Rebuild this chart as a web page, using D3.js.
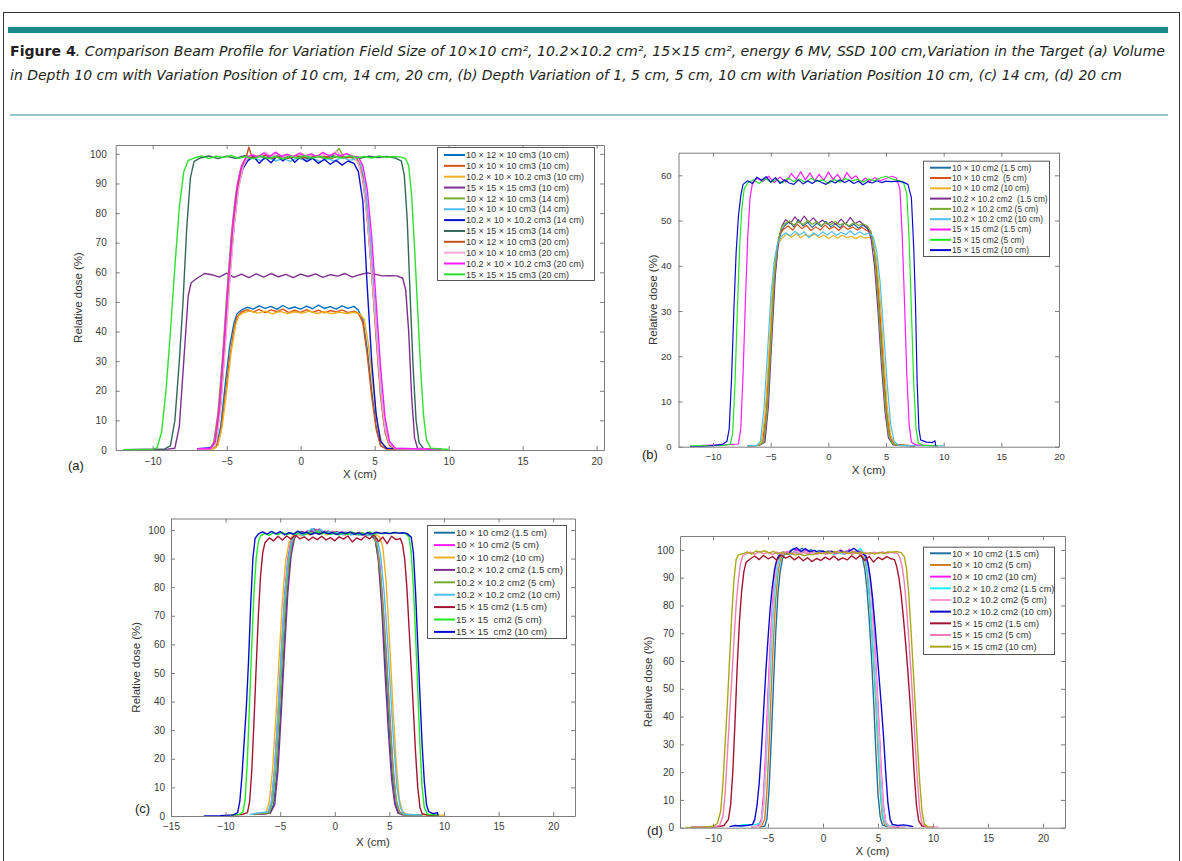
<!DOCTYPE html>
<html>
<head>
<meta charset="utf-8">
<script src="https://cdn.jsdelivr.net/npm/d3@7"></script>
<style>
  body { margin: 0; background: #fff; }
  svg { display: block; }
</style>
</head>
<body>
<svg id="chart" width="1182" height="861"></svg>
<script>
// ---- data ----
var xTicksA = [-10, -5, 0, 5, 10, 15, 20];
var yTicksA = [0, 10, 20, 30, 40, 50, 60, 70, 80, 90, 100];
var xTicksB = [-10, -5, 0, 5, 10, 15, 20];
var yTicksB = [0, 10, 20, 30, 40, 50, 60];
var xTicksC = [-15, -10, -5, 0, 5, 10, 15, 20];
var yTicksC = [0, 10, 20, 30, 40, 50, 60, 70, 80, 90, 100];
var xTicksD = [-10, -5, 0, 5, 10, 15, 20];
var yTicksD = [0, 10, 20, 30, 40, 50, 60, 70, 80, 90, 100];

var labelsA = [
  "10 × 12 × 10 cm3 (10 cm)", "10 × 10 × 10 cm3 (10 cm)", "10.2 × 10 × 10.2 cm3 (10 cm)", "15 × 15 × 15 cm3 (10 cm)",
  "10 × 12 × 10 cm3 (14 cm)", "10 × 10 × 10 cm3 (14 cm)", "10.2 × 10 × 10.2 cm3 (14 cm)", "15 × 15 × 15 cm3 (14 cm)",
  "10 × 12 × 10 cm3 (20 cm)", "10 × 10 × 10 cm3 (20 cm)", "10.2 × 10 × 10.2 cm3 (20 cm)", "15 × 15 × 15 cm3 (20 cm)"
];
var labelsB = [
  "10 × 10 cm2 (1.5 cm)", "10 × 10 cm2  (5 cm)", "10 × 10 cm2 (10 cm)", "10.2 × 10.2 cm2  (1.5 cm)",
  "10.2 × 10.2 cm2 (5 cm)", "10.2 × 10.2 cm2 (10 cm)", "15 × 15 cm2 (1.5 cm)", "15 × 15 cm2 (5 cm)", "15 × 15 cm2 (10 cm)"
];
var labelsC = [
  "10 × 10 cm2 (1.5 cm)", "10 × 10 cm2 (5 cm)", "10 × 10 cm2 (10 cm)", "10.2 × 10.2 cm2 (1.5 cm)",
  "10.2 × 10.2 cm2 (5 cm)", "10.2 × 10.2 cm2 (10 cm)", "15 × 15 cm2 (1.5 cm)", "15 × 15  cm2 (5 cm)", "15 × 15  cm2 (10 cm)"
];
var labelsD = [
  "10 × 10 cm2 (1.5 cm)", "10 × 10 cm2 (5 cm)", "10 × 10 cm2 (10 cm)", "10.2 × 10.2 cm2 (1.5 cm)",
  "10.2 × 10.2 cm2 (5 cm)", "10.2 × 10.2 cm2 (10 cm)", "15 × 15 cm2 (1.5 cm)", "15 × 15 cm2 (5 cm)", "15 × 15 cm2 (10 cm)"
];

// profiles: [x (cm), relative dose (%)]
var profilesA = [
  [[-7,0.3],[-6,0.4],[-5.7,1.2],[-5.4,8],[-5.1,22],[-4.8,35],[-4.5,43],[-4.3,46],[-4.0,47.3],[-3.6,48.2],[-3.2,47.6],[-2.8,48.7],[-2.4,47.8],[-2.0,48.5],[-1.6,47.5],[-1.2,48.8],[-0.8,47.7],[-0.4,48.3],[0,47.6],[0.4,48.6],[0.8,47.7],[1.2,48.9],[1.6,47.8],[2.0,48.4],[2.4,47.6],[2.8,48.7],[3.2,47.8],[3.6,48.5],[3.9,47.2],[4.2,44],[4.5,34],[4.8,20],[5.1,8],[5.4,1.5],[5.8,0.4],[7,0.2]],
  [[-7,0.2],[-6,0.3],[-5.7,1],[-5.4,6],[-5.1,18],[-4.8,31],[-4.5,41],[-4.3,45],[-4.0,46.6],[-3.6,47.4],[-3.2,46.6],[-2.8,47.5],[-2.4,46.4],[-2.0,47.3],[-1.6,46.7],[-1.2,47.6],[-0.8,46.4],[-0.4,47.2],[0,46.5],[0.4,47.4],[0.8,46.5],[1.2,47.2],[1.6,46.3],[2.0,47.1],[2.4,46.6],[2.8,47.3],[3.2,46.4],[3.6,46.9],[3.9,46.2],[4.2,43],[4.5,32],[4.8,18],[5.1,7],[5.4,1.5],[5.8,0.3],[7,0.2]],
  [[-7,0.2],[-5.9,0.3],[-5.6,1.5],[-5.3,8],[-5.0,20],[-4.7,33],[-4.4,42],[-4.2,45.3],[-3.9,46.3],[-3.4,47],[-2.9,46.2],[-2.4,46.9],[-1.9,46],[-1.4,46.8],[-0.9,46.1],[-0.4,46.7],[0.1,46.2],[0.6,46.9],[1.1,46.1],[1.6,46.7],[2.1,46],[2.6,46.6],[3.1,46.1],[3.6,46.5],[4.0,46],[4.3,44],[4.6,35],[4.9,21],[5.2,8],[5.5,2],[5.9,0.4],[7,0.2]],
  [[-12,0.1],[-9,0.3],[-8.5,0.6],[-8.2,8],[-7.9,30],[-7.6,52],[-7.4,56.5],[-7.0,58],[-6.5,59.6],[-6.0,59.2],[-5.5,58.4],[-5.0,59.7],[-4.5,58.3],[-4.0,59.4],[-3.5,58.2],[-3.0,59.5],[-2.5,58.4],[-2.0,59.6],[-1.5,58.5],[-1.0,59.3],[-0.5,58.2],[0,59.4],[0.5,58.6],[1.0,59.5],[1.5,58.3],[2.0,59.2],[2.5,58.7],[3.0,59.6],[3.5,58.4],[4.0,59.2],[4.5,59.8],[5.0,59.4],[5.5,58.8],[6.0,58.9],[6.5,58.8],[6.9,58],[7.1,54],[7.3,40],[7.5,18],[7.7,4],[7.9,0.6],[9,0.2]],
  [[-7,0.3],[-6.2,0.5],[-5.9,2],[-5.6,12],[-5.3,30],[-5.0,52],[-4.7,72],[-4.4,86],[-4.1,94],[-3.8,97.5],[-3.4,98.8],[-2.9,99.5],[-2.4,98.6],[-1.9,99.4],[-1.4,98.7],[-0.9,99.6],[-0.4,98.8],[0.1,99.3],[0.6,98.5],[1.1,99.5],[1.6,98.7],[2.1,99.2],[2.6,101.8],[2.9,99],[3.4,98.8],[3.8,97.8],[4.1,94],[4.4,84],[4.7,66],[5.0,46],[5.3,26],[5.6,10],[5.9,2.5],[6.3,0.5],[9.5,0.2]],
  [[-7,0.3],[-6.1,0.5],[-5.8,2],[-5.5,13],[-5.2,32],[-4.9,54],[-4.6,74],[-4.3,87],[-4.0,95],[-3.7,97.8],[-3.2,98.6],[-2.7,97.8],[-2.2,98.9],[-1.7,97.6],[-1.2,98.5],[-0.7,97.5],[-0.2,98.7],[0.3,97.8],[0.8,98.6],[1.3,97.4],[1.8,98.4],[2.3,97.6],[2.8,98.8],[3.3,97.9],[3.8,98.2],[4.1,96],[4.4,88],[4.7,72],[5.0,50],[5.3,28],[5.6,11],[5.9,3],[6.3,0.6],[9.5,0.2]],
  [[-7,0.4],[-6.0,0.8],[-5.7,3],[-5.4,16],[-5.1,36],[-4.8,58],[-4.5,76],[-4.2,89],[-3.9,95],[-3.6,97.5],[-3.2,99.2],[-2.8,96.8],[-2.4,98.8],[-2.0,97],[-1.6,99.3],[-1.2,97.6],[-0.8,99.5],[-0.4,97.2],[0,99],[0.4,97.4],[0.8,98.5],[1.2,96.8],[1.6,98.2],[2.0,96.5],[2.4,97.8],[2.8,96.2],[3.2,97.6],[3.6,96.8],[3.9,94],[4.2,84],[4.5,55],[4.8,30],[5.1,12],[5.4,3],[5.8,0.6],[7,0.3]],
  [[-12,0.1],[-9.2,0.3],[-8.8,1.5],[-8.5,10],[-8.2,30],[-7.95,50],[-7.7,75],[-7.45,92],[-7.2,97.5],[-6.8,98.6],[-6.2,99.3],[-5.6,98.4],[-5.0,99.2],[-4.4,98.5],[-3.8,99.4],[-3.2,98.7],[-2.6,99.1],[-2.0,98.4],[-1.4,99.2],[-0.8,98.6],[-0.2,99.3],[0.4,98.5],[1.0,99.1],[1.6,98.6],[2.2,99.3],[2.8,98.7],[3.4,99],[4.0,98.5],[4.6,99.2],[5.2,98.8],[5.8,99.1],[6.4,98.6],[6.8,97.6],[7.0,93],[7.2,78],[7.4,52],[7.6,28],[7.8,10],[8.0,2.5],[8.3,0.5],[9.5,0.2]],
  [[-7,0.3],[-6.1,0.4],[-5.8,2],[-5.5,12],[-5.2,31],[-4.9,53],[-4.6,73],[-4.3,87],[-4.0,95],[-3.7,98.5],[-3.5,102.3],[-3.3,99],[-2.9,98.8],[-2.4,99.6],[-1.9,98.7],[-1.4,99.4],[-0.9,98.5],[-0.4,99.3],[0.1,98.6],[0.6,99.5],[1.1,98.8],[1.6,99.2],[2.1,98.5],[2.6,99.4],[3.1,98.7],[3.6,99.1],[3.9,97.5],[4.2,92],[4.5,78],[4.8,60],[5.1,38],[5.4,18],[5.7,6],[6.0,1.5],[6.4,0.4],[9.5,0.2]],
  [[-7,0.2],[-6.0,0.4],[-5.7,2.5],[-5.4,14],[-5.1,34],[-4.8,56],[-4.5,75],[-4.2,88],[-3.9,95.5],[-3.6,98.6],[-3.2,99.8],[-2.8,98.9],[-2.4,100.6],[-2.0,99.2],[-1.6,100.2],[-1.2,98.9],[-0.8,99.7],[-0.4,99],[0,100.4],[0.4,99.1],[0.8,99.8],[1.2,98.8],[1.6,100.1],[2.0,99.3],[2.4,101],[2.8,99.4],[3.2,99.9],[3.6,98.9],[3.9,97],[4.2,91],[4.5,78],[4.8,60],[5.1,40],[5.4,20],[5.7,7],[6.0,2],[6.4,0.4],[9.5,0.2]],
  [[-7,0.3],[-6.1,0.5],[-5.8,3],[-5.5,15],[-5.2,35],[-4.9,57],[-4.6,76],[-4.3,89],[-4.0,96],[-3.7,98.8],[-3.3,99.6],[-2.9,99],[-2.5,100.3],[-2.1,99.1],[-1.7,100.6],[-1.3,99.2],[-0.9,99.9],[-0.5,99],[-0.1,100.2],[0.3,99.3],[0.7,100],[1.1,99.1],[1.5,100.5],[1.9,99.4],[2.3,100.2],[2.7,99.3],[3.1,100.1],[3.5,99.2],[3.9,99],[4.2,96],[4.5,88],[4.8,72],[5.1,50],[5.4,28],[5.7,11],[6.0,3],[6.4,0.6],[9.5,0.2]],
  [[-12,0.1],[-10,0.2],[-9.7,0.8],[-9.4,6],[-9.1,20],[-8.8,40],[-8.5,62],[-8.2,82],[-7.9,94],[-7.6,97.8],[-7.2,98.6],[-6.7,99.3],[-6.2,98.4],[-5.7,99.2],[-5.2,98.8],[-4.7,99.5],[-4.2,98.5],[-3.7,99.1],[-3.2,98.3],[-2.7,99.3],[-2.2,98.4],[-1.7,99.1],[-1.2,98.2],[-0.7,99.2],[-0.2,98.5],[0.3,99.4],[0.8,98.6],[1.3,99.2],[1.8,98.3],[2.3,99.1],[2.8,98.6],[3.3,99.4],[3.8,98.7],[4.3,99.1],[4.8,98.6],[5.3,99.3],[5.8,98.8],[6.3,99.1],[6.8,98.9],[7.1,98.3],[7.3,96],[7.5,86],[7.7,68],[7.9,48],[8.1,28],[8.3,12],[8.5,3.5],[8.8,0.6],[10,0.2]]
];

var profilesB = [
  [[-7,0.2],[-6,0.3],[-5.6,1],[-5.3,8],[-5.0,22],[-4.7,36],[-4.4,44],[-4.1,47.5],[-3.8,48.8],[-3.4,49.8],[-3.0,48.6],[-2.6,50.2],[-2.2,48.8],[-1.8,49.6],[-1.4,48.5],[-1.0,49.4],[-0.6,48.7],[-0.2,49.8],[0.2,48.6],[0.6,49.3],[1.0,48.4],[1.4,49.5],[1.8,48.6],[2.2,49.2],[2.6,48.3],[3.0,49],[3.4,48.2],[3.7,47],[4.0,43],[4.3,34],[4.6,22],[4.9,11],[5.2,3.5],[5.5,0.8],[6,0.3],[7.5,0.2]],
  [[-7,0.2],[-6,0.3],[-5.7,1],[-5.4,8],[-5.1,21],[-4.8,35],[-4.5,43.5],[-4.2,47],[-3.9,48],[-3.5,48.8],[-3.1,47.9],[-2.7,49.2],[-2.3,48.2],[-1.9,48.9],[-1.5,47.8],[-1.1,48.6],[-0.7,47.9],[-0.3,49],[0.1,48.1],[0.5,48.7],[0.9,47.8],[1.3,48.8],[1.7,48],[2.1,48.6],[2.5,47.9],[2.9,48.5],[3.3,47.8],[3.6,47.4],[3.9,45],[4.2,39],[4.5,29],[4.8,17],[5.1,7],[5.4,1.8],[5.8,0.4],[7.5,0.2]],
  [[-7,0.2],[-6.1,0.3],[-5.8,1],[-5.5,7],[-5.2,19],[-4.9,33],[-4.6,41.5],[-4.3,45],[-4.0,46.2],[-3.6,47],[-3.2,46.3],[-2.8,47.1],[-2.4,46.2],[-2.0,46.9],[-1.6,46.5],[-1.2,47],[-0.8,46.2],[-0.4,46.8],[0,46],[0.4,46.7],[0.8,46.1],[1.2,46.8],[1.6,46.2],[2.0,46.5],[2.4,46],[2.8,46.6],[3.2,46.1],[3.6,46.3],[3.9,45.2],[4.2,41],[4.5,32],[4.8,20],[5.1,9],[5.4,2.5],[5.8,0.5],[7.5,0.2]],
  [[-7,0.2],[-6,0.3],[-5.5,1],[-5.2,9],[-4.9,24],[-4.6,38],[-4.3,46],[-4.0,49],[-3.7,50.2],[-3.3,49.3],[-2.9,50.8],[-2.5,49.5],[-2.1,51],[-1.7,49.6],[-1.3,50.6],[-0.9,49.4],[-0.5,50.1],[-0.1,49.2],[0.3,49.8],[0.7,49.1],[1.1,50.3],[1.5,49.2],[1.9,50.7],[2.3,49.3],[2.7,49.9],[3.1,48.9],[3.4,48.4],[3.7,46],[4.0,40],[4.3,30],[4.6,18],[4.9,8],[5.2,2],[5.6,0.4],[7.5,0.2]],
  [[-7,0.2],[-6,0.3],[-5.6,1],[-5.3,8],[-5.0,22],[-4.7,37],[-4.4,45],[-4.1,48.3],[-3.8,49.3],[-3.4,49.9],[-3.0,49],[-2.6,49.8],[-2.2,49.1],[-1.8,50],[-1.4,49.2],[-1.0,49.7],[-0.6,48.9],[-0.2,49.6],[0.2,49.1],[0.6,49.8],[1.0,49],[1.4,49.5],[1.8,48.8],[2.2,49.6],[2.6,48.9],[3.0,49.3],[3.4,48.8],[3.7,47.5],[4.0,43],[4.3,33],[4.6,21],[4.9,10],[5.2,3],[5.5,0.7],[6,0.3],[7.5,0.2]],
  [[-7,0.2],[-6.2,0.3],[-5.9,1.2],[-5.6,8],[-5.3,20],[-5.0,33],[-4.7,41],[-4.4,45],[-4.1,46.5],[-3.7,47.3],[-3.3,46.6],[-2.9,47.6],[-2.5,46.8],[-2.1,47.5],[-1.7,46.2],[-1.3,47.3],[-0.9,46.6],[-0.5,47.5],[-0.1,46.8],[0.3,47.6],[0.7,46.7],[1.1,47.4],[1.5,46.9],[1.9,47.7],[2.3,46.8],[2.7,47.5],[3.1,46.9],[3.5,47.2],[3.9,46.4],[4.2,43],[4.5,36],[4.8,25],[5.1,14],[5.4,5],[5.7,1.2],[6.1,0.3],[10,0.2]],
  [[-11,0.3],[-9,0.4],[-7.8,0.6],[-7.6,4],[-7.4,16],[-7.2,32],[-7.0,46],[-6.8,55],[-6.6,58],[-6.2,59.4],[-5.7,58.6],[-5.2,59.8],[-4.7,58.4],[-4.2,59.6],[-3.7,58.5],[-3.2,60.4],[-2.8,59.1],[-2.4,60.8],[-2.0,59],[-1.6,60.5],[-1.2,58.8],[-0.8,60.2],[-0.4,58.9],[0,60.7],[0.4,59.1],[0.8,60.2],[1.2,58.6],[1.6,60.6],[2.0,59.2],[2.4,59.9],[2.8,58.4],[3.2,59.4],[3.6,58.6],[4.0,59.5],[4.5,58.8],[5.0,59.3],[5.5,59.8],[5.9,59.4],[6.2,57],[6.4,47],[6.6,32],[6.8,16],[7.0,5],[7.2,1],[7.6,0.4],[9.5,0.2]],
  [[-12,0.2],[-9,0.3],[-8.5,0.6],[-8.3,3],[-8.1,14],[-7.9,30],[-7.7,44],[-7.5,53],[-7.3,57],[-7.0,58.3],[-6.5,59],[-6.0,58.2],[-5.5,59.3],[-5.0,58.5],[-4.5,59.1],[-4.0,58.3],[-3.5,59.4],[-3.0,58.6],[-2.5,59.2],[-2.0,58.4],[-1.5,59.3],[-1.0,58.7],[-0.5,59],[0,58.2],[0.5,59.1],[1.0,58.5],[1.5,59.3],[2.0,58.7],[2.5,59.1],[3.0,58.5],[3.5,59.2],[4.0,58.8],[4.5,59.4],[5.0,59.8],[5.5,59.2],[6.0,58.9],[6.5,58.5],[6.8,56],[7.0,46],[7.2,30],[7.4,14],[7.6,4],[7.8,0.8],[8.2,0.3],[9.5,0.2]],
  [[-12,0],[-10.5,0.1],[-9.2,0.5],[-8.8,1.2],[-8.6,4],[-8.4,15],[-8.2,30],[-8.0,43],[-7.8,51],[-7.6,55.5],[-7.4,58],[-7.0,58.8],[-6.6,58.2],[-6.2,59.6],[-5.8,58.9],[-5.4,59.7],[-5.0,58.5],[-4.6,59.5],[-4.2,58.2],[-3.8,59],[-3.4,58.3],[-3,58],[-2.6,59],[-2.2,58.1],[-1.8,58.8],[-1.4,58.2],[-1,58.9],[-0.6,58.4],[-0.2,58],[0.2,58.8],[0.6,58.3],[1,59],[1.4,58.4],[1.8,58.9],[2.2,58.2],[2.6,58.7],[3,57.9],[3.4,58.6],[3.8,58.3],[4.2,58.8],[4.6,58.4],[5.0,58.7],[5.5,58.6],[6.0,58.7],[6.5,58.5],[6.9,58],[7.2,55],[7.4,44],[7.55,32],[7.7,14],[7.85,4],[8.0,1.5],[8.5,1],[9.0,0.9],[9.25,1.3],[9.3,0.2]]
];

var profilesC = [
  [[-7.5,0.8],[-6.5,0.7],[-6.0,1],[-5.6,4],[-5.3,15],[-5.0,34],[-4.7,56],[-4.4,76],[-4.1,90],[-3.8,96.5],[-3.5,98.5],[-3.1,99.2],[-2.7,98.4],[-2.3,99.6],[-1.9,100.4],[-1.5,98.8],[-1.1,99.5],[-0.7,98.5],[-0.3,99.3],[0.1,98.6],[0.5,99.2],[0.9,98.3],[1.3,99],[1.7,98.4],[2.1,99.1],[2.5,98.2],[2.9,98.8],[3.3,98.1],[3.7,96.5],[4.0,90],[4.3,75],[4.6,57],[4.9,36],[5.2,17],[5.5,5],[5.8,1.2],[6.2,0.5],[8,0.3]],
  [[-7.5,0.6],[-6.6,0.8],[-6.1,1.2],[-5.8,5],[-5.5,17],[-5.2,36],[-4.9,57],[-4.6,77],[-4.3,90],[-4.0,96.5],[-3.7,98.6],[-3.3,99.3],[-2.9,98.5],[-2.5,99.7],[-2.1,98.9],[-1.7,100.2],[-1.3,99],[-0.9,99.6],[-0.5,98.7],[-0.1,99.4],[0.3,98.6],[0.7,99.3],[1.1,98.5],[1.5,99.1],[1.9,98.4],[2.3,99.2],[2.7,98.3],[3.1,98.9],[3.5,98],[3.8,96],[4.1,89],[4.4,75],[4.7,58],[5.0,38],[5.3,19],[5.6,6],[5.9,1.5],[6.3,0.5],[8,0.3]],
  [[-7.5,0.5],[-6.7,0.7],[-6.3,1.3],[-6.0,5],[-5.7,16],[-5.4,34],[-5.1,55],[-4.8,75],[-4.5,89],[-4.2,95.5],[-3.9,97.8],[-3.5,98.6],[-3.1,97.9],[-2.7,99],[-2.3,98.2],[-1.9,99.3],[-1.5,98.4],[-1.1,99.1],[-0.7,98.3],[-0.3,99.2],[0.1,98.5],[0.5,99],[0.9,98.2],[1.3,98.9],[1.7,98.3],[2.1,99.1],[2.5,98.2],[2.9,98.8],[3.3,98.1],[3.7,98.5],[4.1,97.6],[4.4,94],[4.7,82],[5.0,62],[5.3,40],[5.6,20],[5.9,6],[6.2,1.5],[6.6,0.5],[10,0.3]],
  [[-7.5,0.6],[-6.5,0.8],[-5.9,1],[-5.5,4],[-5.2,16],[-4.9,36],[-4.6,58],[-4.3,78],[-4.0,91],[-3.7,97],[-3.4,98.8],[-3.0,99.5],[-2.6,98.7],[-2.2,99.8],[-1.8,99],[-1.4,100.3],[-1.0,99.1],[-0.6,99.6],[-0.2,98.8],[0.2,99.4],[0.6,98.7],[1.0,99.2],[1.4,98.5],[1.8,99],[2.2,98.3],[2.6,98.9],[3.0,98.2],[3.4,98.6],[3.7,96.8],[4.0,89],[4.3,73],[4.6,50],[4.9,30],[5.2,13],[5.5,4],[5.8,1],[6.2,0.4],[8,0.3]],
  [[-7.5,0.7],[-6.6,0.9],[-6.0,1.1],[-5.7,5],[-5.4,16],[-5.1,35],[-4.8,56],[-4.5,76],[-4.2,89],[-3.9,96],[-3.6,98.4],[-3.2,99.1],[-2.8,98.3],[-2.4,99.5],[-2.0,98.6],[-1.6,99.9],[-1.2,98.8],[-0.8,99.3],[-0.4,98.5],[0,99.2],[0.4,98.4],[0.8,99.1],[1.2,98.5],[1.6,99.2],[2.0,98.3],[2.4,99],[2.8,98.2],[3.2,98.7],[3.6,97.8],[3.9,94],[4.2,84],[4.5,68],[4.8,50],[5.1,30],[5.4,13],[5.7,4],[6.0,1],[6.4,0.4],[8,0.3]],
  [[-7.8,0.5],[-7.2,1],[-6.6,1.2],[-6.1,1.5],[-5.8,5],[-5.5,17],[-5.2,36],[-4.9,57],[-4.6,76],[-4.3,89],[-4.0,95.5],[-3.7,98],[-3.3,98.8],[-2.9,98],[-2.5,99.2],[-2.1,100.5],[-1.7,99],[-1.3,100.2],[-0.9,98.8],[-0.5,99.4],[-0.1,98.6],[0.3,99.1],[0.7,98.3],[1.1,99],[1.5,98.2],[1.9,98.9],[2.3,98.1],[2.7,98.7],[3.1,98],[3.5,98.4],[3.9,96.8],[4.2,91],[4.5,79],[4.8,63],[5.1,44],[5.4,25],[5.7,10],[6.0,3],[6.3,0.8],[6.8,0.5],[8,0.3]],
  [[-9.5,0.3],[-8.5,0.5],[-8.0,1.2],[-7.8,5],[-7.6,16],[-7.4,33],[-7.2,52],[-7.0,70],[-6.8,84],[-6.6,92],[-6.4,95.5],[-6.0,97.2],[-5.6,96.2],[-5.2,97.8],[-4.8,96.5],[-4.4,97.9],[-4.0,96.8],[-3.6,98.2],[-3.2,96.9],[-2.8,97.6],[-2.4,96.4],[-2.0,97.5],[-1.6,96.6],[-1.2,97.8],[-0.8,96.5],[-0.4,97.3],[0,96.2],[0.4,97.6],[0.8,96.8],[1.2,97.9],[1.6,95.8],[2.0,97.2],[2.4,96.5],[2.8,97.8],[3.2,96.9],[3.6,98.3],[4.0,96],[4.4,97.5],[4.8,95.2],[5.2,97.8],[5.6,96.6],[6.0,97],[6.2,95],[6.4,90],[6.6,80],[6.8,66],[7.0,52],[7.2,37],[7.4,22],[7.6,10],[7.8,3],[8.0,0.8],[8.5,0.3],[9.5,0.2]],
  [[-9.5,0.3],[-8.7,0.6],[-8.4,1.5],[-8.2,6],[-8.0,20],[-7.8,40],[-7.6,60],[-7.4,78],[-7.2,90],[-7.0,96],[-6.8,98],[-6.4,98.8],[-6.0,98.1],[-5.6,99.1],[-5.2,98.4],[-4.8,99.2],[-4.4,98.3],[-4.0,99],[-3.6,98.5],[-3.2,99.3],[-2.8,98.4],[-2.4,99.1],[-2.0,98.6],[-1.6,99.3],[-1.2,98.5],[-0.8,99.2],[-0.4,98.4],[0,99],[0.4,98.3],[0.8,99.1],[1.2,98.5],[1.6,99.2],[2.0,98.4],[2.4,99],[2.8,98.6],[3.2,99.3],[3.6,98.5],[4.0,99.1],[4.4,98.6],[4.8,99],[5.2,98.7],[5.6,99.2],[6.0,98.8],[6.4,99],[6.8,97.5],[7.0,92],[7.2,80],[7.4,63],[7.6,44],[7.8,25],[8.0,10],[8.2,3],[8.5,0.6],[9.5,0.3]],
  [[-12,0],[-10.5,0.1],[-9.3,0.4],[-8.9,1.2],[-8.7,5],[-8.5,14],[-8.3,26],[-8.1,38],[-7.9,54],[-7.7,74],[-7.5,90],[-7.3,97],[-7.0,98.6],[-6.6,99.3],[-6.2,98.5],[-5.8,99.5],[-5.4,98.6],[-5.0,99.4],[-4.6,98.3],[-4.2,99.1],[-3.8,98.5],[-3.4,99.6],[-3.0,98.7],[-2.6,99.2],[-2.2,98.4],[-1.8,99],[-1.4,98.5],[-1.0,99.3],[-0.6,98.6],[-0.2,99.1],[0.2,98.4],[0.6,99.2],[1.0,98.7],[1.4,99.3],[1.8,98.5],[2.2,99],[2.6,98.3],[3.0,99.1],[3.4,98.6],[3.8,99.2],[4.2,98.8],[4.6,99],[5.0,98.7],[5.4,99.1],[5.8,98.9],[6.2,99],[6.6,98.8],[7.0,97.5],[7.2,92],[7.4,78],[7.6,60],[7.8,42],[8.0,25],[8.2,12],[8.4,4],[8.6,1.5],[9.0,0.8],[9.4,1.2],[9.45,0.2]]
];

var profilesD = [
  [[-5.8,0.2],[-5.3,0.5],[-5.1,3],[-4.9,14],[-4.7,32],[-4.5,52],[-4.3,70],[-4.1,84],[-3.9,92],[-3.7,96.5],[-3.5,98.5],[-3.1,99.4],[-2.7,100.4],[-2.3,99.6],[-1.9,100.6],[-1.5,99.3],[-1.1,100.1],[-0.7,99.2],[-0.3,99.8],[0.1,99.1],[0.5,99.6],[0.9,98.9],[1.3,99.5],[1.7,98.8],[2.1,99.6],[2.5,98.9],[2.9,99.4],[3.3,98.7],[3.6,97],[3.8,93],[4.0,86],[4.2,75],[4.4,62],[4.6,46],[4.8,28],[5.0,12],[5.2,4],[5.4,1],[5.8,0.4],[7,0.3]],
  [[-6.5,0.3],[-5.6,0.5],[-5.3,3],[-5.1,13],[-4.9,30],[-4.7,50],[-4.5,68],[-4.3,82],[-4.1,91],[-3.9,96],[-3.7,98.3],[-3.3,99.1],[-2.9,98.4],[-2.5,99.5],[-2.1,98.7],[-1.7,99.8],[-1.3,98.9],[-0.9,99.4],[-0.5,98.6],[-0.1,99.3],[0.3,98.5],[0.7,99.6],[1.1,98.8],[1.5,99.4],[1.9,98.6],[2.3,99.3],[2.7,98.5],[3.1,99.1],[3.5,98.2],[3.8,96.5],[4.0,92],[4.2,84],[4.4,73],[4.6,60],[4.8,45],[5.0,28],[5.2,13],[5.4,4],[5.6,1],[6,0.4],[7,0.3]],
  [[-6.5,0.3],[-5.9,0.5],[-5.6,3],[-5.4,12],[-5.2,28],[-5.0,48],[-4.8,66],[-4.6,80],[-4.4,90],[-4.2,95.5],[-4.0,97.8],[-3.6,98.8],[-3.2,99.5],[-2.8,98.6],[-2.4,100.3],[-2.0,99.2],[-1.6,100.1],[-1.2,99],[-0.8,99.7],[-0.4,98.9],[0,99.5],[0.4,98.8],[0.8,99.4],[1.2,98.6],[1.6,99.3],[2.0,98.5],[2.4,100.2],[2.8,99.1],[3.2,99.8],[3.6,98.9],[3.9,98],[4.1,95],[4.3,89],[4.5,79],[4.7,66],[4.9,52],[5.1,36],[5.3,20],[5.5,8],[5.7,2],[6.0,0.5],[7,0.3]],
  [[-7.8,0.4],[-7.3,1.1],[-6.6,1],[-6.0,1.2],[-5.6,2],[-5.4,8],[-5.2,21],[-5.0,38],[-4.8,56],[-4.6,72],[-4.4,84],[-4.2,92],[-4.0,96.5],[-3.8,98.2],[-3.4,99],[-3.0,98.3],[-2.6,99.4],[-2.2,98.6],[-1.8,99.7],[-1.4,98.8],[-1.0,99.5],[-0.6,98.7],[-0.2,99.3],[0.2,98.6],[0.6,99.2],[1.0,98.4],[1.4,99.1],[1.8,98.5],[2.2,99.3],[2.6,98.6],[3.0,99.2],[3.4,100.5],[3.7,98.8],[3.9,96],[4.1,90],[4.3,80],[4.5,68],[4.7,55],[4.9,40],[5.1,24],[5.3,10],[5.5,3],[5.8,0.8],[6.5,0.5],[7.5,0.3]],
  [[-6.5,0.3],[-5.8,0.5],[-5.6,2],[-5.4,9],[-5.2,24],[-5.0,44],[-4.8,63],[-4.6,78],[-4.4,89],[-4.2,95],[-4.0,97.6],[-3.6,98.6],[-3.2,99.3],[-2.8,98.5],[-2.4,99.6],[-2.0,98.8],[-1.6,99.4],[-1.2,98.7],[-0.8,99.5],[-0.4,98.6],[0,99.2],[0.4,98.5],[0.8,99.3],[1.2,98.6],[1.6,100.2],[2.0,99.1],[2.4,99.8],[2.8,98.9],[3.2,99.4],[3.6,98.6],[3.9,97.4],[4.1,94],[4.3,87],[4.5,77],[4.7,64],[4.9,50],[5.1,34],[5.3,18],[5.5,7],[5.7,2],[6.0,0.5],[7.5,0.3]],
  [[-8.5,0.4],[-8.0,0.8],[-7.4,0.6],[-6.8,0.9],[-6.4,1.2],[-6.2,3],[-6.0,8],[-5.8,16],[-5.6,28],[-5.4,42],[-5.2,56],[-5.0,68],[-4.8,79],[-4.6,87],[-4.4,93],[-4.2,96.5],[-4.0,98],[-3.6,99.2],[-3.2,98.4],[-2.8,100],[-2.4,100.8],[-2.0,99.4],[-1.6,100.5],[-1.2,99.3],[-0.8,99.8],[-0.4,99],[0,99.6],[0.4,98.8],[0.8,99.5],[1.2,98.9],[1.6,99.7],[2.0,99.1],[2.4,99.6],[2.8,100.6],[3.2,99.3],[3.6,98.7],[3.9,97.6],[4.1,95],[4.3,90],[4.5,83],[4.7,74],[4.9,64],[5.1,54],[5.3,44],[5.5,33],[5.7,20],[5.9,9],[6.1,3],[6.3,1.2],[6.8,0.8],[7.3,1],[7.8,0.7],[8.2,0.4]],
  [[-12,0.2],[-9.6,0.3],[-9.0,0.8],[-8.6,3],[-8.4,8],[-8.2,20],[-8.0,38],[-7.8,58],[-7.6,74],[-7.4,85],[-7.2,92],[-7.0,95.5],[-6.6,96.8],[-6.2,97.8],[-5.8,96.5],[-5.4,98],[-5.0,96.8],[-4.6,97.6],[-4.2,96.3],[-3.8,98.2],[-3.4,97],[-3.0,97.8],[-2.6,96.4],[-2.2,97.5],[-1.8,96.1],[-1.4,97.2],[-1.0,95.8],[-0.6,96.9],[-0.2,96.2],[0.2,97.4],[0.6,96.5],[1.0,97.8],[1.4,96.3],[1.8,97.1],[2.2,96.4],[2.6,97.9],[3.0,96.7],[3.4,98.1],[3.8,96.2],[4.2,97.6],[4.6,95.6],[5.0,97.3],[5.4,96.5],[5.8,97.6],[6.2,96.8],[6.5,96.5],[6.7,94],[6.9,90],[7.1,84],[7.3,76],[7.5,67],[7.7,57],[7.9,46],[8.1,33],[8.3,19],[8.5,8],[8.7,2.5],[9.0,0.6],[9.5,0.3]],
  [[-12,0.1],[-10,0.3],[-9.4,0.8],[-9.1,4],[-8.9,12],[-8.7,26],[-8.5,40],[-8.3,53],[-8.1,67],[-7.9,80],[-7.7,89],[-7.5,95],[-7.3,97.8],[-7.0,98.6],[-6.6,99.2],[-6.2,98.4],[-5.8,99.4],[-5.4,98.6],[-5.0,99.1],[-4.6,98.3],[-4.2,99.2],[-3.8,98.5],[-3.4,99.3],[-3.0,98.6],[-2.6,99.1],[-2.2,98.3],[-1.8,99.2],[-1.4,98.6],[-1.0,99],[-0.6,98.4],[-0.2,99.1],[0.2,98.5],[0.6,99.3],[1.0,98.7],[1.4,99.5],[1.8,98.8],[2.2,99.3],[2.6,98.6],[3.0,99.2],[3.4,98.5],[3.8,99.1],[4.2,98.4],[4.6,99.2],[5.0,98.7],[5.4,99.3],[5.8,98.8],[6.2,99.1],[6.6,98.9],[6.8,98.6],[7.0,97],[7.2,94],[7.4,88],[7.6,79],[7.8,68],[8.0,56],[8.2,43],[8.4,29],[8.6,16],[8.8,6],[9.0,1.5],[9.3,0.4],[10.5,0.2]],
  [[-12.5,0.1],[-11,0.2],[-10,0.5],[-9.6,1.5],[-9.3,6],[-9.1,16],[-8.9,30],[-8.7,44],[-8.5,60],[-8.3,76],[-8.1,89],[-7.9,96.5],[-7.7,98.2],[-7.3,98.6],[-6.9,99.3],[-6.5,98.5],[-6.1,99.6],[-5.7,99.2],[-5.3,99.7],[-4.9,98.8],[-4.5,99.5],[-4.1,98.6],[-3.7,99.2],[-3.3,98.4],[-2.9,98.8],[-2.5,98.1],[-2.1,98.5],[-1.7,97.9],[-1.3,98.4],[-0.9,98.2],[-0.5,99],[-0.1,98.6],[0.3,99.3],[0.7,98.7],[1.1,99.5],[1.5,98.9],[1.9,99.3],[2.3,98.7],[2.7,99.4],[3.1,98.8],[3.5,99.2],[3.9,98.6],[4.3,99],[4.7,98.5],[5.1,99.1],[5.5,98.7],[5.9,99.3],[6.3,99.2],[6.7,99.4],[7.1,99],[7.4,97.5],[7.6,93],[7.8,84],[8.0,71],[8.2,57],[8.4,43],[8.6,29],[8.8,16],[9.0,6],[9.2,1.5],[9.5,0.3],[10,0.2]]
];

// ---- colours (MATLAB style) ----
var colorsA = ["#0072BD", "#D95319", "#EDB120", "#7E2F8E", "#77AC30", "#4DBEEE", "#0A10C8", "#34675A", "#C2521C", "#F4A6D7", "#FF1AFF", "#2EE02E"];
var colorsB = ["#1F6FA0", "#D95319", "#EDB120", "#7E2F8E", "#77AC30", "#4DBEEE", "#FF1AFF", "#1EE61E", "#0A0ACF"];
var colorsC = ["#1F6FA0", "#FF1AFF", "#EDB120", "#7E2F8E", "#77AC30", "#4DBEEE", "#A2142F", "#1EEB1E", "#0A0ACF"];
var colorsD = ["#1F6FA0", "#CF7F22", "#FF1AFF", "#18F0F0", "#FF9ECF", "#0A0ACF", "#A2142F", "#F27DB3", "#A8A816"];

// ---- layout of the four panels ----
var panels = [
  {tag: "(a)", labels: labelsA, colors: colorsA, profiles: profilesA, xTicks: xTicksA, yTicks: yTicksA,
   xDomain: [-12.5, 20.5], yDomain: [0, 103], left: 115.7, right: 604, top: 145, bottom: 450,
   tickFont: 10, padX: 8, padY: 9, yLabelX: 82, xLabelY: 478, tagX: 68, tagY: 470,
   leg: {x: 437, y: 147, w: 157, h: 133, first: 155, step: 10.85, font: 9, lineW: 1.4}},
  {tag: "(b)", labels: labelsB, colors: colorsB, profiles: profilesB, xTicks: xTicksB, yTicks: yTicksB,
   xDomain: [-13, 20], yDomain: [0, 65], left: 678.5, right: 1059, top: 152.7, bottom: 446.7,
   tickFont: 9.5, padX: 7, padY: 7, yLabelX: 657, xLabelY: 474, tagX: 642, tagY: 459,
   leg: {x: 923, y: 160.7, w: 126, h: 95.3, first: 167.7, step: 10.3, font: 8.4, lineW: 1.2}},
  {tag: "(c)", labels: labelsC, colors: colorsC, profiles: profilesC, xTicks: xTicksC, yTicks: yTicksC,
   xDomain: [-15, 22], yDomain: [0, 104], left: 171, right: 575, top: 518.5, bottom: 816,
   tickFont: 10, padX: 7, padY: 6, yLabelX: 140, xLabelY: 846, tagX: 135, tagY: 813,
   leg: {x: 427, y: 525, w: 139, h: 113, first: 532.7, step: 12.4, font: 9.6, lineW: 1.4}},
  {tag: "(d)", labels: labelsD, colors: colorsD, profiles: profilesD, xTicks: xTicksD, yTicks: yTicksD,
   xDomain: [-13, 22], yDomain: [0, 105], left: 680, right: 1065, top: 536, bottom: 827.7,
   tickFont: 10, padX: 7, padY: 6, yLabelX: 652, xLabelY: 855, tagX: 647, tagY: 835,
   leg: {x: 923, y: 546.7, w: 131, h: 107.3, first: 553.3, step: 11.67, font: 9.2, lineW: 1.4}}
];

var svg = d3.select("#chart");
var axisFont = "'Liberation Sans', Arial, sans-serif";
var captionFont = "'Liberation Sans Narrow', 'DejaVu Sans Condensed', sans-serif";

// page frame and header rules
svg.append("rect").attr("x", 3.5).attr("y", 12.5).attr("width", 1176).attr("height", 860)
  .attr("fill", "none").attr("stroke", "#333").attr("stroke-width", 1);
svg.append("rect").attr("x", 8).attr("y", 27).attr("width", 1160).attr("height", 6).attr("fill", "#1A8A8C");
svg.append("line").attr("x1", 10).attr("x2", 1168).attr("y1", 115).attr("y2", 115)
  .attr("stroke", "#2F8C8C").attr("stroke-width", 1.2);

// caption
var cap1 = svg.append("text").attr("x", 10).attr("y", 56).attr("font-family", captionFont)
  .attr("font-size", 14.5).attr("fill", "#231F20")
  .attr("textLength", 1155).attr("lengthAdjust", "spacingAndGlyphs");
cap1.append("tspan").attr("font-weight", "bold").text("Figure 4");
cap1.append("tspan").attr("font-style", "italic")
  .text(". Comparison Beam Profile for Variation Field Size of 10×10 cm², 10.2×10.2 cm², 15×15 cm², energy 6 MV, SSD 100 cm,Variation in the Target (a) Volume");
svg.append("text").attr("x", 10).attr("y", 80).attr("font-family", captionFont)
  .attr("font-size", 14.5).attr("fill", "#231F20").attr("font-style", "italic")
  .attr("textLength", 1112).attr("lengthAdjust", "spacingAndGlyphs")
  .text("in Depth 10 cm with Variation Position of 10 cm, 14 cm, 20 cm, (b) Depth Variation of 1, 5 cm, 5 cm, 10 cm with Variation Position 10 cm, (c) 14 cm, (d) 20 cm");

panels.forEach(function(p, pi) {
  var x = d3.scaleLinear().domain(p.xDomain).range([p.left, p.right]);
  var y = d3.scaleLinear().domain(p.yDomain).range([p.bottom, p.top]);
  var g = svg.append("g").attr("class", "panel-" + pi);

  var clipId = "clip" + pi;
  g.append("clipPath").attr("id", clipId).append("rect")
    .attr("x", p.left).attr("y", p.top).attr("width", p.right - p.left).attr("height", p.bottom - p.top);

  var line = d3.line().x(function(d) { return x(d[0]); }).y(function(d) { return y(d[1]); });
  g.append("g").attr("clip-path", "url(#" + clipId + ")")
    .selectAll("path").data(p.profiles).enter().append("path")
    .attr("d", line)
    .attr("fill", "none")
    .attr("stroke", function(d, i) { return p.colors[i]; })
    .attr("stroke-width", p.leg.lineW)
    .attr("stroke-linejoin", "round");

  // axes, ticks pointing inwards on all four sides (MATLAB box)
  var axCol = "#7d7d7d";
  var bottom = g.append("g").attr("transform", "translate(0," + p.bottom + ")")
    .call(d3.axisBottom(x).tickValues(p.xTicks).tickSizeInner(-4).tickSizeOuter(0).tickPadding(p.padX));
  var top = g.append("g").attr("transform", "translate(0," + p.top + ")")
    .call(d3.axisTop(x).tickValues(p.xTicks).tickSizeInner(-4).tickSizeOuter(0).tickFormat(""));
  var leftAx = g.append("g").attr("transform", "translate(" + p.left + ",0)")
    .call(d3.axisLeft(y).tickValues(p.yTicks).tickSizeInner(-4).tickSizeOuter(0).tickPadding(p.padY));
  var rightAx = g.append("g").attr("transform", "translate(" + p.right + ",0)")
    .call(d3.axisRight(y).tickValues(p.yTicks).tickSizeInner(-4).tickSizeOuter(0).tickFormat(""));
  [bottom, top, leftAx, rightAx].forEach(function(a) {
    a.selectAll("path, line").attr("stroke", axCol);
    a.selectAll("text").attr("font-family", axisFont).attr("font-size", p.tickFont).attr("fill", "#3a3a3a");
  });

  // axis titles
  g.append("text").attr("x", (p.left + p.right) / 2).attr("y", p.xLabelY)
    .attr("text-anchor", "middle").attr("font-family", axisFont).attr("font-size", 11.5)
    .attr("fill", "#333").text("X (cm)");
  g.append("text").attr("transform", "translate(" + p.yLabelX + "," + ((p.top + p.bottom) / 2) + ") rotate(-90)")
    .attr("text-anchor", "middle").attr("font-family", axisFont).attr("font-size", 11.5)
    .attr("fill", "#333").text("Relative dose (%)");
  g.append("text").attr("x", p.tagX).attr("y", p.tagY).attr("font-family", axisFont)
    .attr("font-size", 13).attr("fill", "#222").text(p.tag);

  // legend
  var L = p.leg;
  var lg = g.append("g");
  lg.append("rect").attr("x", L.x + 0.5).attr("y", L.y + 0.5).attr("width", L.w).attr("height", L.h)
    .attr("fill", "#fff").attr("stroke", "#555").attr("stroke-width", 1);
  var rows = lg.selectAll("g.row").data(p.labels).enter().append("g").attr("class", "row")
    .attr("transform", function(d, i) { return "translate(" + (L.x + 7) + "," + (L.first + i * L.step) + ")"; });
  rows.append("line").attr("x1", 0).attr("x2", 21).attr("y1", 0).attr("y2", 0)
    .attr("stroke", function(d, i) { return p.colors[i]; }).attr("stroke-width", 2);
  rows.append("text").attr("x", 22).attr("y", 0).attr("dy", "0.35em")
    .attr("font-family", axisFont).attr("font-size", L.font).attr("fill", "#333")
    .style("white-space", "pre").text(function(d) { return d; });
});
</script>
</body>
</html>
